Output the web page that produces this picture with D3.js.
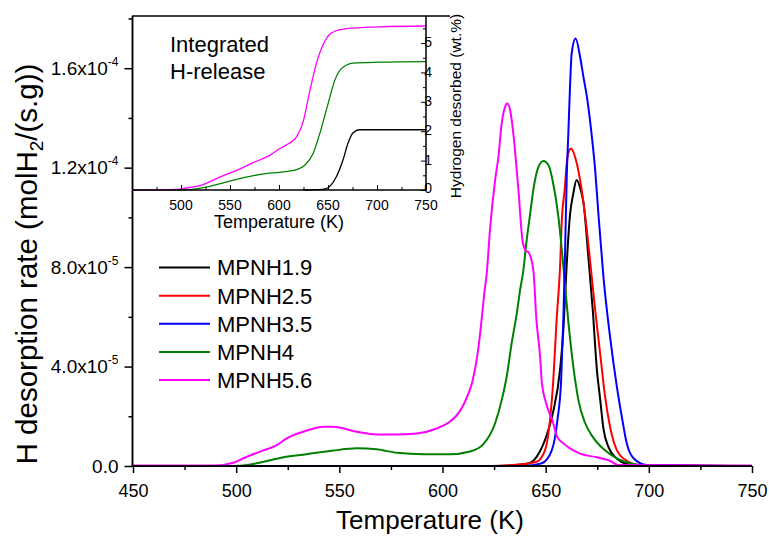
<!DOCTYPE html>
<html><head><meta charset="utf-8">
<script src="https://cdn.jsdelivr.net/npm/d3@7"></script>
<style>
body{margin:0;background:#fff}
svg{display:block;font-family:"Liberation Sans",Arial,sans-serif}
</style></head><body>
<svg id="chart" width="769" height="536"></svg>
<script>
// ---------- data ----------
const seriesNames = ["MPNH1.9","MPNH2.5","MPNH3.5","MPNH4","MPNH5.6"];
const seriesColors = ["#000000","#ff0000","#0000ff","#008000","#ff00ff"];

// Main panel: temperature (K) and desorption rate in units of 1e-5 molH2/(s.g)
const tempA = [623,632,642,647.3,651.3,653.7,657,658.6,659.4,660.2,661.8,663.4,665,667,668.3,670.8,672.8,674.8,676.4,678,680.5,684.5,689.3,695,750];
const rateA = [0,0.02,0.11,0.6,1.45,2.2,3.9,5.5,6.8,8.1,10.1,10.96,11.5,11.1,10.6,8.3,6.3,3.9,2.7,1.5,0.75,0.3,0.08,0.02,0];

const tempB = [623,636,645.6,649.7,652.1,653.7,655.3,656.9,657.9,659.2,660.2,661,662.3,664.7,666.7,669.1,671.5,674,676.4,678.8,681.2,684.5,689.3,695.8,750];
const rateB = [0,0.05,0.17,0.64,1.85,3.46,5.87,7.88,10.0,11.1,12.17,12.6,12.77,12.3,11.5,10.1,8.28,6.27,4.53,2.79,1.58,0.64,0.21,0.04,0];

const tempC = [450,640,648.1,653,655.7,657.5,658.6,659.4,660.2,661,661.8,662.6,664.5,666.7,668.3,670,672.4,674,675.6,678,681.2,684.5,686.9,689.3,692.6,699,750];
const rateC = [0,0,0.11,0.64,1.85,3.46,6.0,8.6,11.6,13.4,15.25,16.59,17.19,16.45,15.65,14.85,13.24,11.9,10.1,7.61,5.2,3.19,1.98,0.91,0.31,0.04,0];

const tempD = [450,494,502,510,523,534,547,558.4,568,578,590.7,603.7,613.4,619.8,625.5,628.7,631.1,633.5,636,637.6,639.2,640.8,642.4,644,646.5,648.9,651.4,653.8,656.2,658.6,661,663.4,666,669,673,678,684.5,692.6,699,750];
const rateD = [0,0,0.01,0.11,0.35,0.47,0.62,0.71,0.67,0.53,0.47,0.47,0.58,0.88,1.72,2.65,3.59,4.93,6.14,7.07,7.88,9.09,10.09,11.1,12.03,12.27,12.1,11.3,10.0,8.0,5.8,4.0,2.6,1.75,1.15,0.68,0.31,0.08,0,0];

const tempE = [450,490,498.6,503.5,511.6,519.7,524.5,532.6,542.3,547.1,558.4,568.1,577.8,587.5,597.2,603,606.5,609.5,612,614.5,616.8,618.6,620.2,621.5,623,625.5,627.1,628.7,630.3,631.4,632.8,634.3,636.8,638.9,640.5,641.6,644,645.5,647.3,648.1,650.5,653.7,655.4,658.6,661.8,666.7,674.8,681.2,685,750];
const rateE = [0.02,0.02,0.13,0.31,0.58,0.84,1.11,1.38,1.58,1.58,1.38,1.27,1.27,1.31,1.51,1.75,2.0,2.35,2.8,3.4,4.4,5.6,6.9,7.8,9.49,11.5,12.43,13.78,14.44,14.58,14.3,13.4,11.1,9.0,8.65,8.6,7.9,5.9,4.4,3.4,2.45,1.72,1.2,0.91,0.71,0.5,0.35,0.21,0.04,0.02];

const mainTemps = [tempA,tempB,tempC,tempD,tempE];
const mainRates = [rateA,rateB,rateC,rateD,rateE];

// Inset: integrated hydrogen desorbed (wt.%)
const insetTempA = [625,640,648.3,658.4,665.2,670.3,675.4,682.2,750];
const insetWtA   = [0,0.01,0.05,0.44,1.01,1.58,1.94,2.05,2.05];
const insetTempD = [450,500,525.7,546,566.4,586.8,600.8,617.7,626.3,634.8,641.6,650.1,656.9,663.7,675.6,702.6,750];
const insetWtD   = [0,0,0.1,0.27,0.44,0.56,0.6,0.69,0.84,1.24,1.92,2.94,3.73,4.13,4.32,4.35,4.37];
const insetTempE = [450,495,502,522.6,539.6,556.6,573.6,590.5,600.8,610,617.7,624.5,631.3,638.1,646.6,653.3,668.6,702.6,750];
const insetWtE   = [0,0.02,0.05,0.18,0.44,0.67,0.93,1.18,1.41,1.58,1.8,2.3,3.35,4.3,5.05,5.34,5.49,5.55,5.58];

// ticks
const xTicks = [450,500,550,600,650,700,750];
const xMinor = [475,525,575,625,675,725];
const yTicks = [0,4,8,12,16];
const yMinor = [2,6,10,14,18];
const yTickMant = ["0.0","4.0","8.0","1.2","1.6"];
const yTickExp  = [null,"-5","-5","-4","-4"];
const insetXTicks = [500,550,600,650,700,750];
const insetXMinor = [475,525,575,625,675,725];
const insetYTicks = [0,1,2,3,4,5];
const insetYMinor = [0.5,1.5,2.5,3.5,4.5,5.5];

// ---------- drawing ----------
const svg = d3.select("#chart");
const x = d3.scaleLinear().domain([450,750]).range([133,752]);
const y = d3.scaleLinear().domain([0,18.1]).range([466,16]);

// main curves
const line = d3.line().x(d=>x(d[0])).y(d=>y(d[1])).curve(d3.curveMonotoneX);
const order = [0,1,3,2,4];
order.forEach(i=>{
  const pts = mainTemps[i].map((t,k)=>[t,mainRates[i][k]]);
  svg.append("path").attr("d",line(pts)).attr("fill","none")
    .attr("stroke",seriesColors[i]).attr("stroke-width",2).attr("stroke-linejoin","round");
});

// main axes
const gx = svg.append("g").attr("transform","translate(0,466)")
  .call(d3.axisBottom(x).tickValues(xTicks).tickSize(7).tickPadding(11).tickFormat(d3.format("d")));
gx.append("g").call(d3.axisBottom(x).tickValues(xMinor).tickSize(4).tickFormat(""));
gx.selectAll(".domain").attr("d","M132,0H752");
const gy = svg.append("g").attr("transform","translate(132.5,0)")
  .call(d3.axisLeft(y).tickValues(yTicks).tickSize(8).tickPadding(6).tickFormat(""));
gy.append("g").call(d3.axisLeft(y).tickValues(yMinor.filter(v=>v<18.1)).tickSize(4).tickFormat(""));
gy.selectAll(".domain").attr("d","M0,466V16");
[gx,gy].forEach(g=>{
  g.selectAll("path,line").attr("stroke","#000").attr("stroke-width",1.5);
  g.selectAll("text").attr("font-family","Liberation Sans, Arial, sans-serif").attr("fill","#000");
});
gx.selectAll("text").attr("font-size",18);
gy.selectAll(".tick text").each(function(d){
  const i = yTicks.indexOf(d);
  const t = d3.select(this).attr("font-size",19).attr("x",-14);
  t.text(null);
  if(yTickExp[i]){
    t.append("tspan").text(yTickMant[i]+"x10");
    t.append("tspan").attr("font-size",12).attr("dy","-0.75em").text(yTickExp[i]);
  } else {
    t.append("tspan").text(yTickMant[i]);
  }
});

// axis titles
svg.append("text").attr("x",430).attr("y",529).attr("text-anchor","middle")
  .attr("font-size",26).text("Temperature (K)");
const yt = svg.append("text").attr("transform","translate(37,264) rotate(-90)")
  .attr("text-anchor","middle").attr("font-size",29.5);
yt.append("tspan").text("H desorption rate (molH");
yt.append("tspan").attr("font-size",19).attr("dy","0.3em").text("2");
yt.append("tspan").attr("dy","-0.2em").text("/(s.g))");

// legend
const legendY = d3.scalePoint().domain(seriesNames).range([267.5,380]);
seriesNames.forEach((n,i)=>{
  svg.append("line").attr("x1",159).attr("x2",210).attr("y1",legendY(n)).attr("y2",legendY(n))
    .attr("stroke",seriesColors[i]).attr("stroke-width",2);
  svg.append("text").attr("x",217).attr("y",legendY(n)).attr("dy","0.36em")
    .attr("font-size",22).text(n);
});

// ---------- inset ----------
const xi = d3.scaleLinear().domain([450,750]).range([132,426]);
const yi = d3.scaleLinear().domain([0,5.92]).range([190,16]);
const iline = d3.line().x(d=>xi(d[0])).y(d=>yi(d[1])).curve(d3.curveMonotoneX);
[[insetTempA,insetWtA,0],[insetTempD,insetWtD,3],[insetTempE,insetWtE,4]].forEach(([ts,ws,c])=>{
  svg.append("path").attr("d",iline(ts.map((t,k)=>[t,ws[k]]))).attr("fill","none")
    .attr("stroke",seriesColors[c]).attr("stroke-width",1.3);
});
const gix = svg.append("g").attr("transform","translate(0,190)")
  .call(d3.axisTop(xi).tickValues(insetXTicks).tickSize(5).tickFormat(""));
gix.append("g").call(d3.axisTop(xi).tickValues(insetXMinor).tickSize(3).tickFormat(""));
gix.selectAll(".domain").attr("d","M132,0H426");
insetXTicks.forEach(v=>{
  gix.append("text").attr("x",xi(v)).attr("y",20).attr("text-anchor","middle")
    .attr("font-size",14).text(v);
});
const giy = svg.append("g").attr("transform","translate(426,0)")
  .call(d3.axisLeft(yi).tickValues(insetYTicks).tickSize(5).tickFormat(""));
giy.append("g").call(d3.axisLeft(yi).tickValues(insetYMinor).tickSize(3).tickFormat(""));
giy.selectAll(".domain").attr("d","M0,190V16");
insetYTicks.forEach(v=>{
  giy.append("text").attr("x",6).attr("y",yi(v)).attr("dy",v===0?"0.2em":"0.3em")
    .attr("font-size",14).text(v);
});
[gix,giy].forEach(g=>{
  g.selectAll("path,line").attr("stroke","#000").attr("stroke-width",1);
  g.selectAll("text").attr("fill","#000");
});
svg.append("line").attr("x1",132).attr("x2",450).attr("y1",16).attr("y2",16)
  .attr("stroke","#000").attr("stroke-width",1.5);
svg.append("text").attr("x",279).attr("y",228).attr("text-anchor","middle")
  .attr("font-size",18).text("Temperature (K)");
svg.append("text").attr("transform","translate(461,106) rotate(-90)")
  .attr("text-anchor","middle").attr("font-size",15.5).text("Hydrogen desorbed (wt.%)");
svg.append("text").attr("x",170).attr("y",52).attr("font-size",22).text("Integrated");
svg.append("text").attr("x",170).attr("y",79).attr("font-size",22).text("H-release");
</script>
</body></html>
